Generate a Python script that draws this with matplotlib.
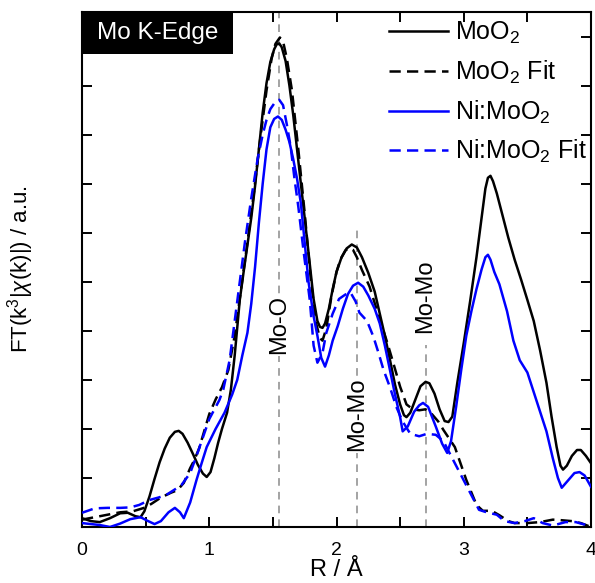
import matplotlib
matplotlib.use("Agg")
import matplotlib.pyplot as plt
from matplotlib.patches import Rectangle

plt.rcParams['font.family'] = ['Liberation Sans', 'DejaVu Sans']
plt.rcParams['mathtext.fontset'] = 'custom'
plt.rcParams['mathtext.rm'] = 'Liberation Sans'
plt.rcParams['mathtext.it'] = 'Liberation Sans:italic'

# MoO2 measured FT magnitude
r_moo2 = [0.00, 0.07, 0.14, 0.22, 0.30, 0.36, 0.42, 0.46, 0.49, 0.53, 0.57, 0.61, 0.65, 0.69,
          0.73, 0.76, 0.79, 0.83, 0.87, 0.91, 0.95, 0.98, 1.01, 1.04, 1.07, 1.10, 1.14, 1.17,
          1.20, 1.24, 1.27, 1.30, 1.33, 1.36, 1.39, 1.42, 1.45, 1.48, 1.51, 1.53, 1.55, 1.57,
          1.60, 1.63, 1.66, 1.69, 1.72, 1.75, 1.78, 1.82, 1.85, 1.87, 1.89, 1.91, 1.94, 1.97,
          2.00, 2.04, 2.08, 2.12, 2.16, 2.20, 2.25, 2.30, 2.34, 2.38, 2.42, 2.46, 2.50, 2.53,
          2.55, 2.58, 2.62, 2.66, 2.70, 2.73, 2.77, 2.81, 2.85, 2.88, 2.91, 2.95, 3.00, 3.05,
          3.10, 3.14, 3.17, 3.19, 3.21, 3.23, 3.26, 3.30, 3.35, 3.40, 3.45, 3.50, 3.55, 3.60,
          3.65, 3.69, 3.73, 3.76, 3.78, 3.81, 3.85, 3.89, 3.92, 3.96, 4.00]
ft_moo2 = [0.18, 0.12, 0.10, 0.18, 0.28, 0.29, 0.22, 0.20, 0.32, 0.62, 0.98, 1.32, 1.60, 1.82,
           1.94, 1.96, 1.90, 1.72, 1.50, 1.27, 1.09, 1.02, 1.12, 1.40, 1.72, 2.00, 2.33, 2.80,
           3.50, 4.63, 5.20, 5.75, 6.30, 6.95, 7.70, 8.45, 9.05, 9.48, 9.74, 9.84, 9.86, 9.78,
           9.50, 9.00, 8.40, 7.70, 7.00, 6.30, 5.60, 4.65, 4.20, 4.08, 4.06, 4.15, 4.45, 4.85,
           5.20, 5.50, 5.68, 5.76, 5.70, 5.50, 5.18, 4.80, 4.35, 3.90, 3.41, 2.90, 2.50, 2.28,
           2.24, 2.33, 2.60, 2.87, 2.96, 2.93, 2.72, 2.40, 2.16, 2.14, 2.25, 2.95, 3.75, 4.60,
           5.50, 6.30, 6.90, 7.12, 7.16, 7.05, 6.80, 6.40, 5.90, 5.45, 5.05, 4.63, 4.20, 3.60,
           2.94, 2.25, 1.63, 1.25, 1.17, 1.25, 1.45, 1.57, 1.57, 1.45, 1.30]

# MoO2 fit
r_moo2_fit = [0.00, 0.10, 0.20, 0.30, 0.40, 0.50, 0.55, 0.62, 0.70, 0.75, 0.80, 0.85, 0.88, 0.92,
              0.96, 1.00, 1.05, 1.10, 1.15, 1.20, 1.25, 1.30, 1.35, 1.40, 1.45, 1.49, 1.52, 1.555,
              1.58, 1.61, 1.65, 1.70, 1.75, 1.80, 1.84, 1.87, 1.89, 1.92, 1.96, 2.00, 2.03, 2.07,
              2.10, 2.13, 2.16, 2.20, 2.26, 2.32, 2.40, 2.44, 2.50, 2.55, 2.60, 2.65, 2.70, 2.75,
              2.80, 2.84, 2.93, 3.02, 3.10, 3.15, 3.22, 3.28, 3.35, 3.40, 3.50, 3.60, 3.70, 3.76,
              3.85, 3.92, 4.00]
ft_moo2_fit = [0.15, 0.20, 0.25, 0.30, 0.32, 0.40, 0.48, 0.60, 0.70, 0.75, 0.90, 1.20, 1.35, 1.60,
               1.95, 2.30, 2.60, 2.85, 3.20, 3.90, 4.85, 5.80, 6.80, 7.90, 8.90, 9.55, 9.85, 9.98,
               9.90, 9.55, 8.90, 7.70, 6.40, 5.00, 4.15, 3.85, 3.80, 4.05, 4.70, 5.20, 5.45, 5.64,
               5.69, 5.65, 5.50, 5.24, 4.90, 4.40, 3.75, 3.40, 2.86, 2.50, 2.40, 2.38, 2.40, 2.30,
               2.15, 1.98, 1.63, 0.96, 0.45, 0.33, 0.33, 0.24, 0.12, 0.08, 0.08, 0.10, 0.15, 0.14,
               0.12, 0.08, 0.00]

# Ni:MoO2 measured FT magnitude
r_ni = [0.00, 0.07, 0.14, 0.22, 0.30, 0.38, 0.46, 0.52, 0.57, 0.62, 0.68, 0.73, 0.77, 0.80,
        0.85, 0.90, 0.94, 0.98, 1.05, 1.12, 1.18, 1.22, 1.26, 1.30, 1.33, 1.36, 1.39, 1.42,
        1.45, 1.48, 1.51, 1.54, 1.57, 1.60, 1.63, 1.66, 1.69, 1.72, 1.75, 1.78, 1.82, 1.85,
        1.88, 1.91, 1.94, 1.97, 2.01, 2.05, 2.09, 2.13, 2.17, 2.21, 2.25, 2.30, 2.34, 2.38,
        2.42, 2.46, 2.50, 2.52, 2.56, 2.61, 2.65, 2.68, 2.72, 2.78, 2.83, 2.87, 2.90, 2.94,
        2.98, 3.02, 3.06, 3.10, 3.14, 3.17, 3.19, 3.21, 3.24, 3.28, 3.34, 3.39, 3.44, 3.50,
        3.55, 3.60, 3.65, 3.70, 3.74, 3.77, 3.82, 3.87, 3.91, 3.95, 4.00]
ft_ni = [0.08, 0.06, 0.04, 0.00, 0.07, 0.16, 0.20, 0.12, 0.06, 0.12, 0.30, 0.39, 0.30, 0.18,
         0.50, 0.96, 1.30, 1.63, 2.00, 2.33, 2.70, 3.00, 3.50, 3.96, 4.55, 5.30, 6.20, 7.00,
         7.70, 8.15, 8.32, 8.37, 8.30, 8.10, 7.85, 7.50, 7.10, 6.60, 5.80, 5.00, 4.30, 3.90,
         3.45, 3.27, 3.50, 3.80, 4.10, 4.45, 4.75, 4.92, 4.98, 4.90, 4.72, 4.45, 4.15, 3.70,
         3.20, 2.70, 2.24, 1.95, 2.05, 2.35, 2.48, 2.53, 2.45, 2.05, 1.70, 1.51, 1.75, 2.45,
         3.20, 3.90, 4.40, 4.85, 5.25, 5.50, 5.55, 5.45, 5.20, 4.95, 4.40, 3.80, 3.40, 3.15,
         2.75, 2.35, 1.95, 1.40, 1.00, 0.80, 0.95, 1.10, 1.12, 1.05, 0.82]

# Ni:MoO2 fit
r_ni_fit = [0.00, 0.10, 0.20, 0.30, 0.38, 0.45, 0.53, 0.60, 0.66, 0.72, 0.78, 0.85, 0.90, 0.96,
            1.00, 1.08, 1.11, 1.16, 1.22, 1.28, 1.33, 1.38, 1.42, 1.45, 1.48, 1.52, 1.55, 1.58,
            1.61, 1.64, 1.67, 1.70, 1.74, 1.79, 1.82, 1.85, 1.89, 1.92, 1.97, 2.02, 2.07, 2.11,
            2.15, 2.18, 2.24, 2.29, 2.33, 2.37, 2.42, 2.47, 2.52, 2.58, 2.65, 2.71, 2.78, 2.84,
            2.90, 2.95, 3.00, 3.07, 3.12, 3.18, 3.26, 3.32, 3.40, 3.48, 3.55, 3.62, 3.70, 3.80,
            3.88, 3.95, 4.00]
ft_ni_fit = [0.29, 0.38, 0.39, 0.39, 0.40, 0.45, 0.55, 0.60, 0.65, 0.75, 0.85, 1.10, 1.45, 1.90,
             2.20, 2.59, 2.80, 3.40, 4.60, 5.80, 6.70, 7.50, 8.00, 8.30, 8.52, 8.67, 8.71, 8.60,
             8.20, 7.75, 7.10, 6.53, 5.65, 4.63, 3.70, 3.35, 3.55, 3.96, 4.35, 4.65, 4.74, 4.78,
             4.60, 4.37, 4.20, 3.88, 3.55, 3.20, 2.85, 2.45, 2.15, 1.90, 1.85, 1.90, 1.88, 1.75,
             1.45, 1.20, 0.95, 0.60, 0.35, 0.30, 0.25, 0.12, 0.08, 0.12, 0.18, 0.08, 0.03, 0.10,
             0.10, 0.05, 0.00]

# Scattering path markers
path_r = [1.55, 2.16, 2.70]
path_names = ['Mo-O', 'Mo-Mo', 'Mo-Mo']
path_line_top = [10.5, 6.12, 3.71]
path_label_y = [4.12, 2.29, 4.71]

x_ticks = [0, 1, 2, 3, 4]

fig = plt.figure(figsize=(5.95, 5.83), dpi=100)
W, H = 595, 583
ax = fig.add_axes([82 / W, 1 - 527 / H, (591 - 82) / W, (527 - 12) / H])

for r, top in zip(path_r, path_line_top):
    ax.vlines(r, 0, top, colors='#8a8a8a', linewidth=1.1,
              linestyles=(0, (5, 4)), zorder=1)
for r, name, ly in zip(path_r, path_names, path_label_y):
    ax.text(r, ly, name, rotation=90, ha='center', va='center', fontsize=17,
            zorder=2, bbox=dict(facecolor='white', edgecolor='none', pad=1.0))

lw = 1.8
dash = (0, (4.5, 2.5))
ax.plot(r_moo2, ft_moo2, color='black', lw=lw, label='MoO$_\\mathregular{2}$', zorder=3)
ax.plot(r_moo2_fit, ft_moo2_fit, color='black', lw=lw, linestyle=dash,
        label='MoO$_\\mathregular{2}$ Fit', zorder=3)
ax.plot(r_ni, ft_ni, color='#0000ff', lw=lw, label='Ni:MoO$_\\mathregular{2}$', zorder=3)
ax.plot(r_ni_fit, ft_ni_fit, color='#0000ff', lw=lw, linestyle=dash,
        label='Ni:MoO$_\\mathregular{2}$ Fit', zorder=3)

ax.set_xlim(0, 4)
ax.set_ylim(0, 10.5)
ax.set_xticks(x_ticks)
ax.set_xticklabels([str(t) for t in x_ticks])
ax.set_xticks([0.5, 1.5, 2.5, 3.5], minor=True)
ax.set_yticks(range(0, 11))
ax.set_yticklabels([])
ax.tick_params(which='both', direction='in', top=True, right=True,
               length=7, width=1.4, labelsize=14, pad=11)
for s in ax.spines.values():
    s.set_linewidth(1.5)

ax.set_xlabel('R / Å', fontsize=17, labelpad=0)
ax.set_ylabel('FT(k$^\\mathregular{3}$|$\\chi$(k)|) / a.u.', fontsize=16, labelpad=22)

# Edge label box
ax.add_patch(Rectangle((0, (527 - 54) / 515), (233 - 82) / 509, (54 - 12) / 515,
                       transform=ax.transAxes, facecolor='black', edgecolor='none',
                       zorder=4, clip_on=False))
ax.text((157.5 - 82) / 509, (527 - 33) / 515, 'Mo K-Edge', transform=ax.transAxes,
        color='white', fontsize=17.5, ha='center', va='center', zorder=5)

leg = ax.legend(loc='upper right', bbox_to_anchor=(587 / W, 1 - 20 / H),
                bbox_transform=fig.transFigure, frameon=False, fontsize=18,
                handlelength=2.35, handletextpad=0.3, labelspacing=0.5,
                borderpad=0, borderaxespad=0)

fig.savefig('out.png', dpi=100)
